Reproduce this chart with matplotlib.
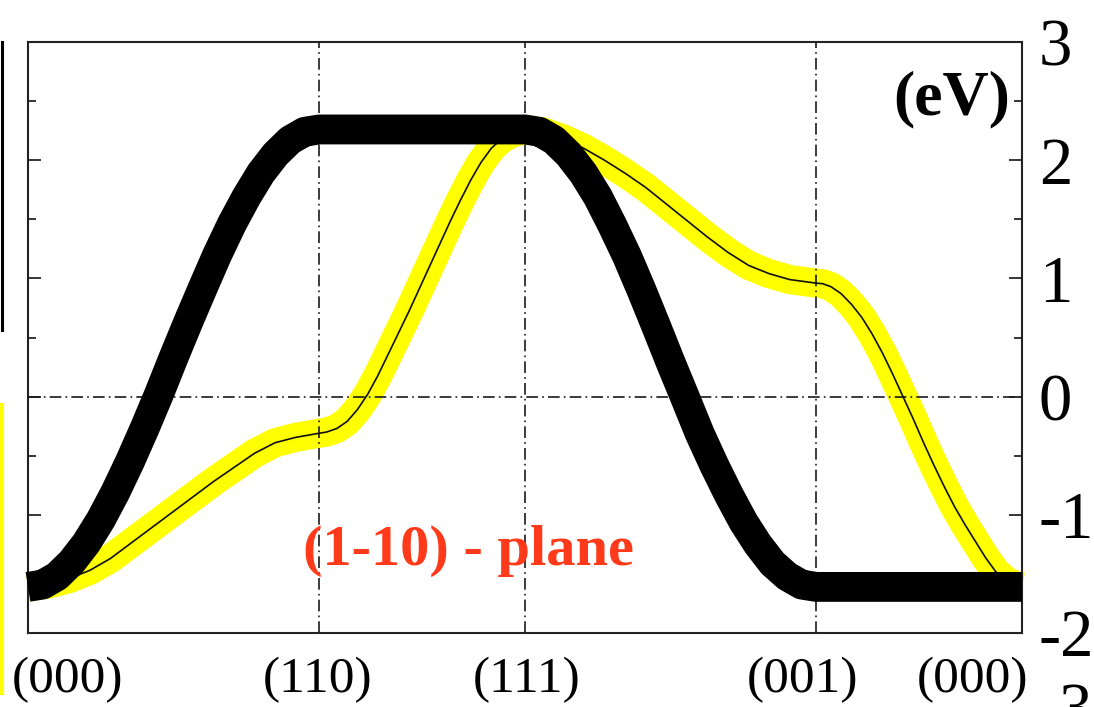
import matplotlib
matplotlib.use('Agg')
import matplotlib.pyplot as plt
from matplotlib.lines import Line2D
from matplotlib.ticker import MultipleLocator

plt.rcParams['font.family'] = ['Liberation Serif', 'DejaVu Serif']

# high-symmetry points along the k-path (path length units)
kpath = [0.0, 1.414, 2.414, 3.828, 4.828]
kpath_labels = ['(000)', '(110)', '(111)', '(001)', '(000)']

# thick black band
black_k = [0.000, 0.071, 0.141, 0.212, 0.283, 0.354, 0.424, 0.495, 0.566, 0.636, 0.707,
           0.778, 0.849, 0.919, 0.990, 1.061, 1.131, 1.202, 1.273, 1.343, 1.414,
           2.414, 2.485, 2.555, 2.626, 2.697, 2.768, 2.838, 2.909, 2.980, 3.050, 3.121,
           3.192, 3.262, 3.333, 3.404, 3.475, 3.545, 3.616, 3.687, 3.757, 3.828,
           4.828]
black_e = [-1.61, -1.59, -1.52, -1.40, -1.24, -1.04, -0.81, -0.55, -0.27, 0.02, 0.33,
           0.63, 0.92, 1.20, 1.46, 1.69, 1.89, 2.05, 2.17, 2.24, 2.26,
           2.26, 2.24, 2.17, 2.05, 1.89, 1.69, 1.45, 1.19, 0.90, 0.60, 0.29,
           -0.01, -0.31, -0.58, -0.83, -1.06, -1.25, -1.41, -1.52, -1.59, -1.61,
           -1.61]

# yellow band (with thin black centre line)
yellow_k = [0.00, 0.10, 0.20, 0.30, 0.40, 0.50, 0.60, 0.70, 0.80, 0.90, 1.00, 1.10, 1.20, 1.30, 1.414,
            1.45, 1.50, 1.55, 1.60, 1.65, 1.70, 1.75, 1.80, 1.85, 1.90, 1.95, 2.00, 2.05, 2.10,
            2.15, 2.20, 2.25, 2.30, 2.35, 2.414,
            2.50, 2.60, 2.70, 2.80, 2.90, 3.00, 3.10, 3.20, 3.30, 3.40, 3.50, 3.60, 3.70, 3.828,
            3.86, 3.90, 3.95, 4.00, 4.05, 4.10, 4.15, 4.20, 4.25, 4.30, 4.35, 4.40, 4.45, 4.50,
            4.55, 4.60, 4.65, 4.70, 4.75, 4.80, 4.828]
yellow_e = [-1.61, -1.585, -1.54, -1.47, -1.37, -1.24, -1.11, -0.98, -0.85, -0.72, -0.60, -0.48, -0.39, -0.345, -0.31,
            -0.30, -0.27, -0.21, -0.11, 0.02, 0.18, 0.36, 0.54, 0.72, 0.91, 1.10, 1.29, 1.48, 1.66,
            1.83, 1.98, 2.10, 2.18, 2.23, 2.26,
            2.24, 2.18, 2.10, 2.00, 1.89, 1.77, 1.63, 1.49, 1.35, 1.22, 1.11, 1.04, 0.99, 0.96,
            0.955, 0.93, 0.87, 0.78, 0.67, 0.53, 0.37, 0.19, 0.00, -0.19, -0.39, -0.58, -0.76, -0.93,
            -1.08, -1.22, -1.36, -1.48, -1.56, -1.60, -1.61]

yticks = [-2, -1, 0, 1, 2, 3]
ytick_labels = ['-2', '-1', '0', '1', '2', '3']

W, H = 1094, 707
fig = plt.figure(figsize=(W / 100, H / 100), dpi=100)
ax = fig.add_axes([28 / W, 1 - 633 / H, 994 / W, 591 / H])

dashdot = (0, (7, 2.5, 1, 2.5))
for k in kpath[1:-1]:
    ax.axvline(k, color='#1a1a1a', lw=1.2, ls=dashdot, zorder=3)
ax.axhline(0, color='#1a1a1a', lw=1.2, ls=dashdot, zorder=3)

ax.plot(yellow_k, yellow_e, color='#ffff00', lw=21, solid_capstyle='butt',
        solid_joinstyle='round', zorder=2, clip_on=False)
ax.plot(yellow_k, yellow_e, color='#111111', lw=1.2, zorder=4)
ax.plot(black_k, black_e, color='black', lw=21.5, solid_capstyle='butt',
        solid_joinstyle='round', zorder=5, clip_on=False)

ax.set_xlim(kpath[0], kpath[-1])
ax.set_ylim(-2, 3)
ax.set_xticks([])
ax.set_yticks(yticks)
ax.set_yticklabels(ytick_labels)
ax.yaxis.set_minor_locator(MultipleLocator(0.5))
ax.tick_params(axis='y', which='both', direction='in', left=True, right=True,
               labelleft=False, labelright=True, width=1.1, labelsize=48, pad=12)
ax.tick_params(axis='y', which='major', length=9.5)
ax.tick_params(axis='y', which='minor', length=5.5)
for sp in ax.spines.values():
    sp.set_linewidth(1.5)
    sp.set_color('#222222')

# k-point labels below the frame (end labels shifted inwards)
label_shift_px = [39, -2, 2, -14, -49]
for k, lab, dx in zip(kpath, kpath_labels, label_shift_px):
    ax.annotate(lab, xy=(k, 0), xycoords=('data', 'axes fraction'),
                xytext=(dx * 0.72, -47 * 0.72), textcoords='offset points',
                ha='center', va='center', fontsize=37, annotation_clip=False)

ax.text(0.9296, 0.902, '(eV)', transform=ax.transAxes, ha='center', va='center',
        fontsize=46, fontweight='bold', zorder=6)
ax.text(0.2767, 0.115, '(1-10) - plane', transform=ax.transAxes, ha='left',
        va='baseline', fontsize=42, fontweight='bold', color='#ff3a1a', zorder=6)

# bits of neighbouring panels cut off by the crop
fig.add_artist(Line2D([1.5 / W, 1.5 / W], [1 - 42 / H, 1 - 330 / H], color='black', lw=2.2))
fig.add_artist(Line2D([2 / W, 2 / W], [1 - 405 / H, 1 - 693 / H], color='#ffff00', lw=3))
fig.text(1075 / W, 1 - 683 / H, '3', ha='center', va='top', fontsize=48)

fig.savefig('out.png', dpi=100)
